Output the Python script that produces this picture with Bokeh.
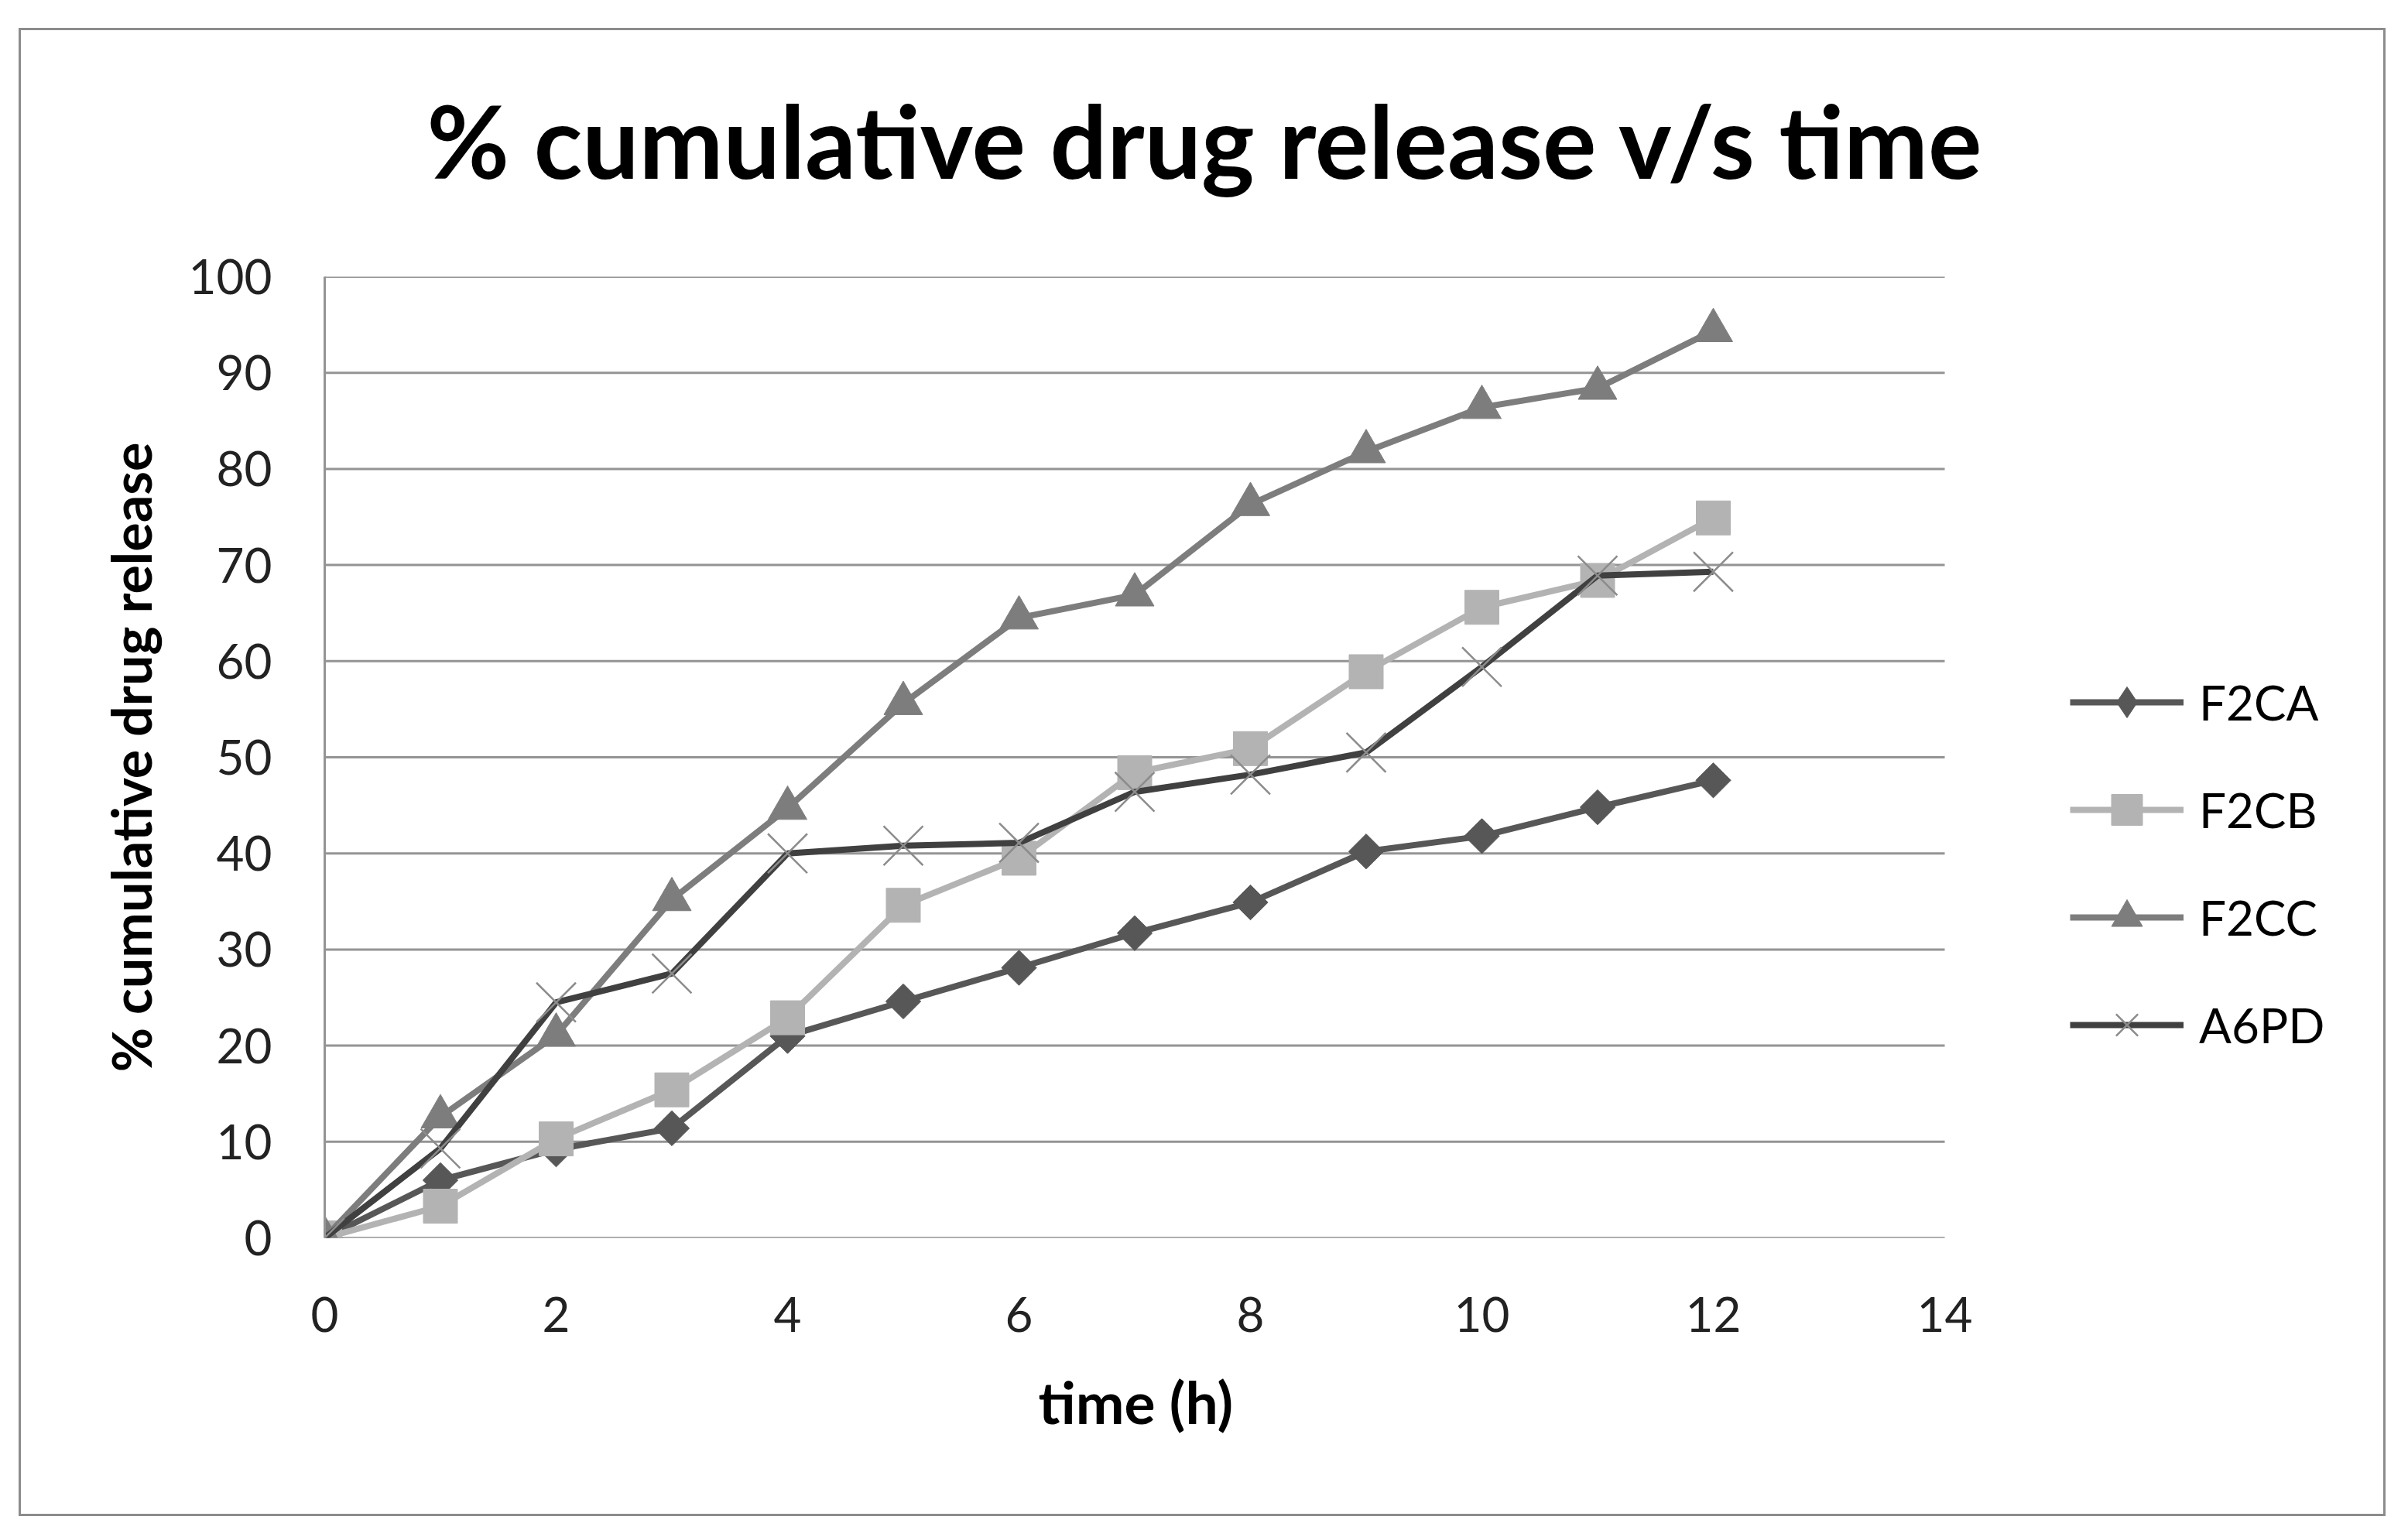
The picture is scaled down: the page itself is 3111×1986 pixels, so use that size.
from bokeh.plotting import figure
from bokeh.models import Range1d, FixedTicker, Legend, LegendItem, Title
from bokeh.embed import file_html
from bokeh.resources import INLINE

# ---- data ----
time_h = [0, 1, 2, 3, 4, 5, 6, 7, 8, 9, 10, 11, 12]
f2ca = [0, 6.0, 9.2, 11.4, 21.0, 24.6, 28.1, 31.7, 34.9, 40.2, 41.8, 44.8, 47.6]
f2cb = [0, 3.3, 10.3, 15.4, 22.9, 34.6, 39.5, 48.4, 50.9, 58.9, 65.6, 68.4, 74.9]
f2cc = [0, 12.6, 21.1, 35.2, 44.7, 55.6, 64.5, 66.9, 76.3, 81.8, 86.4, 88.4, 94.4]
a6pd = [0, 9.3, 24.5, 27.5, 40.0, 40.8, 41.1, 46.4, 48.2, 50.5, 59.4, 68.9, 69.3]
series_names = ["F2CA", "F2CB", "F2CC", "A6PD"]
x_ticks = [0, 2, 4, 6, 8, 10, 12, 14]
y_ticks = [0, 10, 20, 30, 40, 50, 60, 70, 80, 90, 100]

title_text = "% cumulative drug release v/s time"
x_title = "time (h)"
y_title = "% cumulative drug release"

FONT = "Lato"

# layout (pixels)
W, H = 3058, 1923
B_LEFT, B_RIGHT, B_TOP, B_BOTTOM = 392, 40, 318, 363
AXIS_PX = 2093  # pixel length of the 0..14 axis
frame_w = W - B_LEFT - B_RIGHT
x_end = x_ticks[-1] * frame_w / AXIS_PX   # frame extends beyond 14 to host the legend

p = figure(width=W, height=H, output_backend="svg", toolbar_location=None,
           x_range=Range1d(x_ticks[0], x_end), y_range=Range1d(y_ticks[0], y_ticks[-1]),
           min_border_left=B_LEFT, min_border_right=B_RIGHT,
           min_border_top=B_TOP, min_border_bottom=B_BOTTOM,
           background_fill_color="white", border_fill_color="white",
           styles={"margin-left": "24px", "margin-top": "36px",
                   "border": "3px solid #8c8c8c"})
p.outline_line_color = None

# title
p.title.text = title_text
p.title.align = "left"
p.title.vertical_align = "bottom"
p.title.offset = 132
p.title.text_font = FONT
p.title.text_font_size = "130px"
p.title.text_font_style = "bold"
p.title.text_color = "black"
p.title.standoff = 0

# spacer between the title and the plot frame
spacer = Title(text=" ", text_font_size="1px", standoff=96)
p.add_layout(spacer, "above")

# horizontal gridlines (only over the 0..14 span)
p.xgrid.grid_line_color = None
p.ygrid.grid_line_color = None
p.segment(x0=[x_ticks[0]] * len(y_ticks), y0=y_ticks,
          x1=[x_ticks[-1]] * len(y_ticks), y1=y_ticks,
          line_color="#949494", line_width=3)

# axes
p.xaxis.ticker = FixedTicker(ticks=x_ticks)
p.yaxis.ticker = FixedTicker(ticks=y_ticks)
for ax in (p.xaxis[0], p.yaxis[0]):
    ax.major_tick_line_color = None
    ax.minor_tick_line_color = None
    ax.major_label_text_font = FONT
    ax.major_label_text_font_size = "62px"
    ax.major_label_text_color = "#222222"
    ax.axis_label_text_font = FONT
    ax.axis_label_text_font_size = "70px"
    ax.axis_label_text_font_style = "bold"
    ax.axis_label_text_color = "black"
p.xaxis.axis_line_color = None
p.yaxis.axis_line_color = "#949494"
p.yaxis.axis_line_width = 3
p.xaxis.major_label_standoff = 70
p.yaxis.major_label_standoff = 62
p.yaxis.axis_label = y_title
p.yaxis.axis_label_standoff = 30

# x-axis title, positioned under the 0..14 span
xt = Title(text=x_title, align="left", offset=922, standoff=81,
           text_font=FONT, text_font_size="75px", text_font_style="bold",
           text_color="black")
p.add_layout(xt, "below")

# series
nan = float("nan")
items = []
r1 = p.line(time_h, f2ca, line_color="#575757", line_width=8)
s1 = p.scatter(time_h, f2ca, marker="square", angle=0.7854, size=32,
               fill_color="#575757", line_color="#575757")
s1_leg = p.scatter([nan], [nan], marker="diamond", size=40,
                   fill_color="#575757", line_color="#575757")
items.append(LegendItem(label=series_names[0], renderers=[r1, s1_leg]))

r2 = p.line(time_h, f2cb, line_color="#b3b3b3", line_width=8)
s2 = p.scatter(time_h, f2cb, marker="square", size=44,
               fill_color="#b3b3b3", line_color="#b3b3b3")
items.append(LegendItem(label=series_names[1], renderers=[r2, s2]))

r3 = p.line(time_h, f2cc, line_color="#7d7d7d", line_width=8)
s3 = p.scatter(time_h, f2cc, marker="triangle", size=50,
               fill_color="#7d7d7d", line_color="#7d7d7d")
items.append(LegendItem(label=series_names[2], renderers=[r3, s3]))

r4 = p.line(time_h, a6pd, line_color="#404040", line_width=8)
s4 = p.scatter(time_h, a6pd, marker="x", size=72,
               line_color="#8c8c8c", line_width=2.5)
items.append(LegendItem(label=series_names[3], renderers=[r4, s4]))

legend = Legend(items=items, location=(2255, 225),
                glyph_width=147, glyph_height=100, label_height=100,
                spacing=39, label_standoff=20, padding=0, margin=0,
                border_line_color=None, background_fill_alpha=0,
                label_text_font=FONT, label_text_font_size="62px",
                label_text_color="black")
p.add_layout(legend, "center")

open("out.html", "w").write(file_html(p, INLINE))
